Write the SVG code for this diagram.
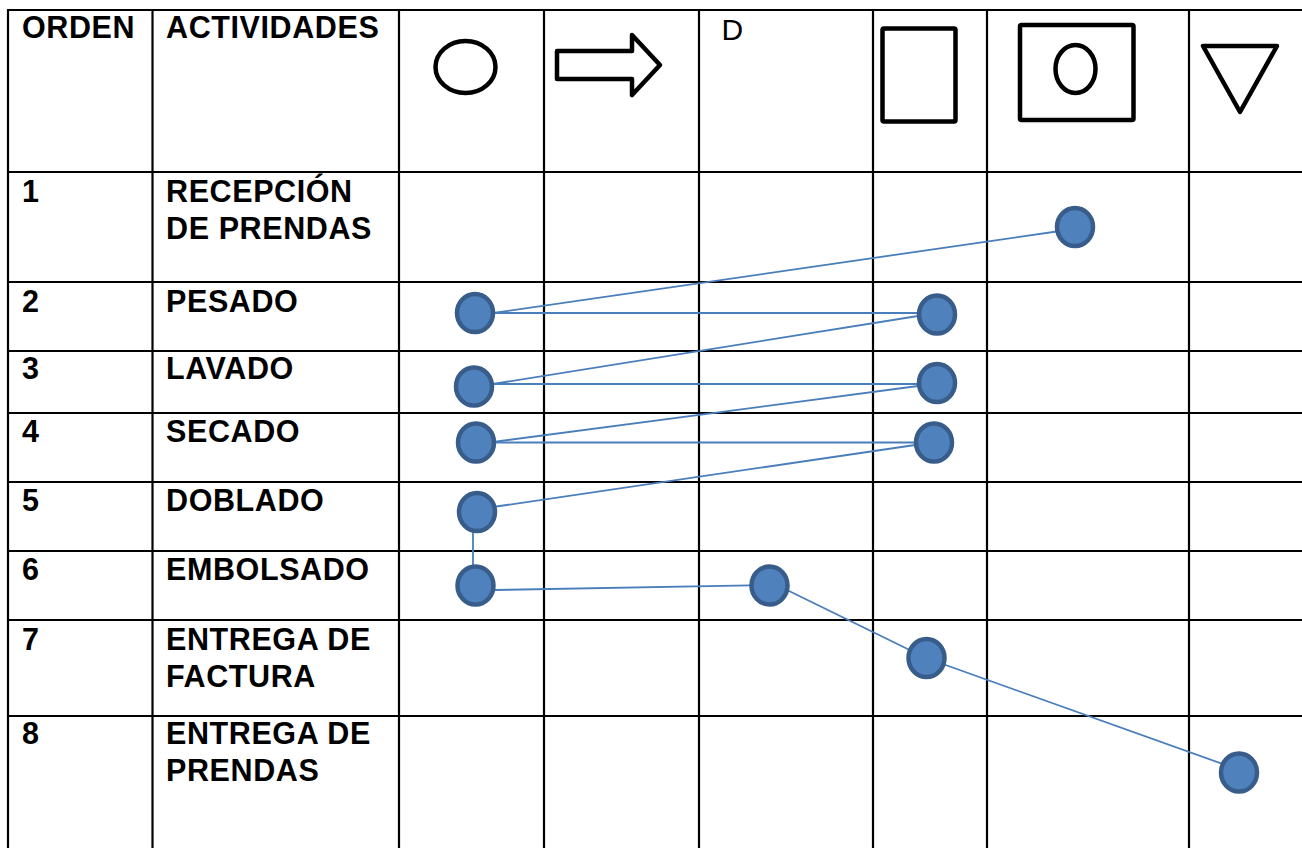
<svg xmlns="http://www.w3.org/2000/svg" width="1302" height="848" viewBox="0 0 1302 848">
<defs>
<style>
.grid{stroke:#000;stroke-width:2.2;fill:none}
.t{font-family:"Liberation Sans",Arial,sans-serif;font-weight:bold;font-size:30.5px;letter-spacing:0.6px;fill:#000}
.d{font-family:"Liberation Sans",Arial,sans-serif;font-size:30px;fill:#000}
.sym{fill:none;stroke:#000;stroke-width:4.5;stroke-linejoin:round}
.dot{fill:#4F81BD;stroke:#385D8A;stroke-width:4.5}
.con{stroke:#4A7EBB;stroke-width:1.8;fill:none}
</style>
</defs>
<rect width="1302" height="848" fill="#fff"/>
<g id="grid" class="grid">
<line x1="8" y1="10" x2="1302" y2="10"/>
<line x1="8" y1="172" x2="1302" y2="172"/>
<line x1="8" y1="282" x2="1302" y2="282"/>
<line x1="8" y1="351" x2="1302" y2="351"/>
<line x1="8" y1="413" x2="1302" y2="413"/>
<line x1="8" y1="482" x2="1302" y2="482"/>
<line x1="8" y1="551" x2="1302" y2="551"/>
<line x1="8" y1="620" x2="1302" y2="620"/>
<line x1="8" y1="716" x2="1302" y2="716"/>
<line x1="8" y1="9" x2="8" y2="848"/>
<line x1="152.5" y1="9" x2="152.5" y2="848"/>
<line x1="399" y1="9" x2="399" y2="848"/>
<line x1="544" y1="9" x2="544" y2="848"/>
<line x1="699" y1="9" x2="699" y2="848"/>
<line x1="873" y1="9" x2="873" y2="848"/>
<line x1="987" y1="9" x2="987" y2="848"/>
<line x1="1189" y1="9" x2="1189" y2="848"/>
</g>
<g id="header">
<text class="t" x="22" y="38">ORDEN</text>
<text class="t" x="166" y="38">ACTIVIDADES</text>
<ellipse class="sym" cx="465.5" cy="67" rx="30" ry="26"/>
<polygon class="sym" points="557,51 632,51 632,35 660,65 632,95 632,79 557,79"/>
<text class="d" x="721.5" y="40">D</text>
<rect class="sym" x="882.5" y="28.5" width="73" height="93" rx="1.5"/>
<rect class="sym" x="1020" y="25" width="113.5" height="95" rx="1.5"/>
<ellipse class="sym" cx="1075.5" cy="69" rx="20" ry="24"/>
<polygon class="sym" points="1203,46 1277,46 1240,112"/>
</g>
<g id="rows">
<text class="t" x="22" y="202">1</text>
<text class="t" x="166" y="202">RECEPCIÓN</text>
<text class="t" x="166" y="239">DE PRENDAS</text>
<text class="t" x="22" y="312">2</text>
<text class="t" x="166" y="312">PESADO</text>
<text class="t" x="22" y="379">3</text>
<text class="t" x="166" y="379">LAVADO</text>
<text class="t" x="22" y="442">4</text>
<text class="t" x="166" y="442">SECADO</text>
<text class="t" x="22" y="511">5</text>
<text class="t" x="166" y="511">DOBLADO</text>
<text class="t" x="22" y="580">6</text>
<text class="t" x="166" y="580">EMBOLSADO</text>
<text class="t" x="22" y="650">7</text>
<text class="t" x="166" y="650">ENTREGA DE</text>
<text class="t" x="166" y="687">FACTURA</text>
<text class="t" x="22" y="744">8</text>
<text class="t" x="166" y="744">ENTREGA DE</text>
<text class="t" x="166" y="781">PRENDAS</text>
</g>
<g id="connectors" class="con">
<line x1="1060" y1="231" x2="493" y2="313"/>
<line x1="493" y1="313" x2="937" y2="313"/>
<line x1="918" y1="316" x2="493" y2="384"/>
<line x1="493" y1="384" x2="937" y2="384"/>
<line x1="918" y1="386" x2="493" y2="442"/>
<line x1="493" y1="442.5" x2="934" y2="442.5"/>
<line x1="915" y1="445" x2="493" y2="507"/>
<line x1="473" y1="530" x2="473" y2="566"/>
<line x1="495" y1="590" x2="769" y2="585"/>
<line x1="787" y1="590" x2="926" y2="658"/>
<line x1="926" y1="658" x2="1234" y2="768"/>
</g>
<g id="n1"><ellipse class="dot" cx="1075" cy="227" rx="18" ry="19"/></g>
<g id="n2a"><ellipse class="dot" cx="475" cy="313" rx="18" ry="19"/></g>
<g id="n2b"><ellipse class="dot" cx="937" cy="314.5" rx="18" ry="19"/></g>
<g id="n3a"><ellipse class="dot" cx="474" cy="386.5" rx="18" ry="19"/></g>
<g id="n3b"><ellipse class="dot" cx="937" cy="383" rx="18" ry="19"/></g>
<g id="n4a"><ellipse class="dot" cx="476" cy="442.5" rx="18" ry="19"/></g>
<g id="n4b"><ellipse class="dot" cx="934" cy="442.5" rx="18" ry="19"/></g>
<g id="n5"><ellipse class="dot" cx="477" cy="512" rx="18" ry="19"/></g>
<g id="n6a"><ellipse class="dot" cx="475.5" cy="585.5" rx="18" ry="19"/></g>
<g id="n6b"><ellipse class="dot" cx="769.5" cy="585.5" rx="18" ry="19"/></g>
<g id="n7"><ellipse class="dot" cx="926.5" cy="658" rx="18" ry="19"/></g>
<g id="n8"><ellipse class="dot" cx="1239" cy="772.5" rx="18" ry="19"/></g>
</svg>
